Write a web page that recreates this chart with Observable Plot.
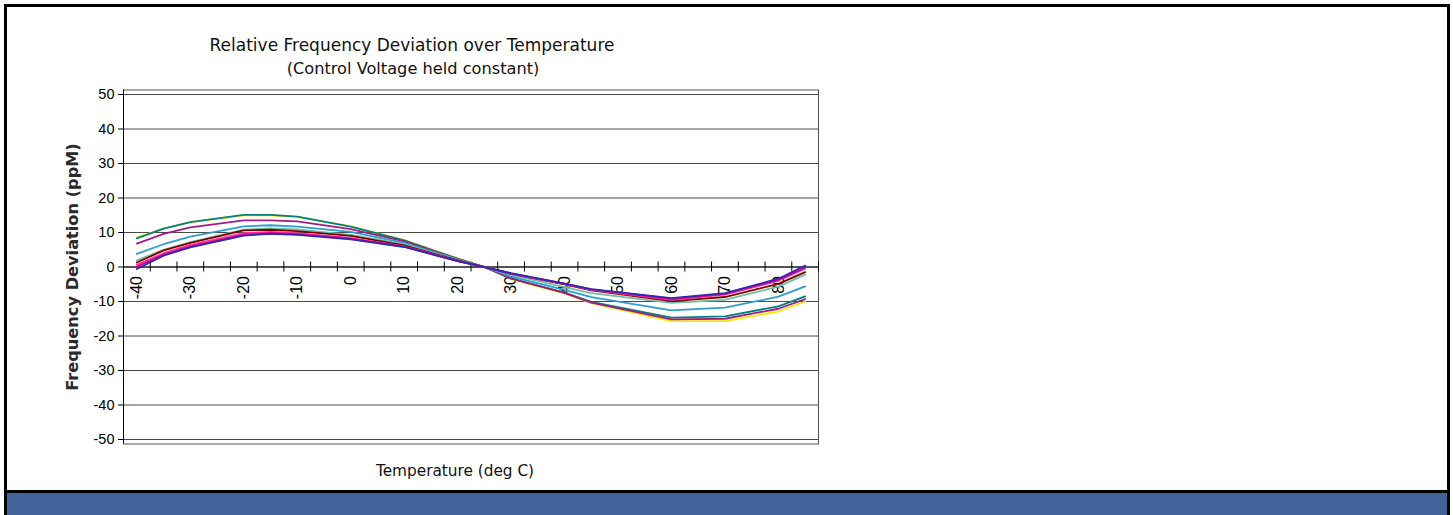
<!DOCTYPE html>
<html>
<head>
<meta charset="utf-8">
<script src="https://cdn.jsdelivr.net/npm/d3@7"></script>
<script src="https://cdn.jsdelivr.net/npm/@observablehq/plot@0.6"></script>
<style>
html, body { margin: 0; padding: 0; background: #fff; width: 1453px; height: 515px; overflow: hidden; position: relative; }
#chart { position: absolute; left: 0; top: 0; }
#border { position: absolute; left: 4px; top: 4px; width: 1446px; height: 540px; box-sizing: border-box; border: 3px solid #000; z-index: 5; pointer-events: none; }
#bar { position: absolute; left: 4px; top: 490px; width: 1446px; height: 40px; box-sizing: border-box; border-top: 3px solid #000; background: #41639A; z-index: 4; }
.t { position: absolute; white-space: nowrap; color: #111; font-family: "DejaVu Sans", sans-serif; z-index: 6; }
#title1 { left: 412px; top: 35px; transform: translateX(-50%); font-size: 17px; }
#title2 { left: 413px; top: 59px; transform: translateX(-50%); font-size: 16.2px; }
#ytitle { left: 72px; top: 267px; transform: translate(-50%, -50%) rotate(-90deg); font-size: 16.2px; font-weight: bold; color: #2a2a2a; }
#xtitle { left: 455px; top: 462px; transform: translateX(-50%); font-size: 15.3px; }
</style>
</head>
<body>
<div id="chart"></div>
<div id="border"></div>
<div id="bar"></div>
<div class="t" id="title1">Relative Frequency Deviation over Temperature</div>
<div class="t" id="title2">(Control Voltage held constant)</div>
<div class="t" id="ytitle">Frequency Deviation (ppM)</div>
<div class="t" id="xtitle">Temperature (deg C)</div>
<script>
// Categories on the x axis (deg C) and the labels shown
const xCategories = [-40,-35,-30,-25,-20,-15,-10,-5,0,5,10,15,20,25,30,35,40,45,50,55,60,65,70,75,80,85];
const xTickLabels = [-40,-30,-20,-10,0,10,20,30,40,50,60,70,80];
const yTicks = [-50,-40,-30,-20,-10,0,10,20,30,40,50];

// Measurement temperatures
const temps = [-40,-35,-30,-20,-15,-10,0,10,20,25,30,40,45,60,70,80,85];

// Series values (ppM)
const seriesYellow   = [8.6, 11.1, 13.0, 15.0, 15.0, 14.5, 11.8, 7.8, 2.5, 0, -3.5, -7.7, -10.5, -15.7, -15.7, -12.9, -10.0];
const seriesTeal     = [8.3, 11.1, 13.0, 15.1, 15.1, 14.6, 11.7, 7.7, 2.4, 0, -3.4, -7.4, -10.1, -14.7, -14.3, -11.4, -8.5];
const seriesPlum     = [6.8, 9.6, 11.5, 13.5, 13.5, 13.2, 11.0, 7.4, 2.3, 0, -3.3, -7.5, -10.3, -15.2, -15.0, -12.1, -9.3];
const seriesCyan     = [3.8, 6.6, 8.8, 11.8, 12.1, 11.7, 10.2, 7.0, 2.2, 0, -2.8, -6.6, -8.7, -12.6, -11.8, -8.6, -5.6];
const seriesSeaGreen = [1.9, 5.0, 7.2, 10.8, 11.2, 10.9, 9.3, 6.6, 2.0, 0, -2.3, -5.8, -7.6, -10.4, -9.5, -5.7, -2.2];
const seriesDarkRed  = [1.3, 4.8, 7.0, 10.6, 10.8, 10.4, 9.0, 6.3, 1.9, 0, -2.0, -5.0, -6.8, -9.9, -8.7, -4.9, -1.5];
const seriesPink     = [0.6, 4.0, 6.4, 9.8, 10.2, 9.8, 8.4, 6.0, 1.8, 0, -1.9, -4.9, -6.6, -9.5, -8.0, -4.0, -0.5];
const seriesMagenta  = [0.1, 3.6, 6.0, 9.4, 9.8, 9.5, 8.2, 5.9, 1.7, 0, -1.9, -4.8, -6.5, -9.2, -7.8, -3.7, -0.2];
const seriesBlue     = [-0.6, 3.3, 5.7, 9.1, 9.6, 9.3, 8.0, 5.8, 1.7, 0, -1.8, -4.8, -6.4, -9.0, -7.6, -3.4, 0.4];

const seriesNames  = ["Yellow","Teal","Plum","Cyan","SeaGreen","DarkRed","Pink","Magenta","Blue"];
const seriesColors = ["#F7E600","#008080","#A01E82","#2E9ECF","#6DBFA8","#800000","#FF3399","#CC0099","#3328B0"];
const seriesValues = [seriesYellow, seriesTeal, seriesPlum, seriesCyan, seriesSeaGreen, seriesDarkRed, seriesPink, seriesMagenta, seriesBlue];

const seriesRows = seriesValues.map((vals, k) => vals.map((v, i) => ({series: seriesNames[k], t: temps[i], v})));

const half = (xCategories[1] - xCategories[0]) / 2;
const bounds = xCategories.map(c => c - half).concat([xCategories[xCategories.length - 1] + half]);

const chart = Plot.plot({
  width: 1453,
  height: 490,
  marginLeft: 123,
  marginRight: 635,
  marginTop: 94,
  marginBottom: 51,
  style: {background: "transparent", fontFamily: "'Liberation Sans', Arial, sans-serif", fontSize: "14px", color: "#000"},
  x: {domain: [bounds[0], bounds[bounds.length - 1]], axis: null},
  y: {domain: [-50, 50], axis: null},
  marks: [
    Plot.gridY(yTicks, {stroke: "#4a4a4a", strokeOpacity: 1}),
    Plot.frame({stroke: "#555", insetTop: -4.5, insetBottom: -4.5}),
    Plot.ruleX([bounds[0]], {stroke: "#000", insetTop: -4.5, insetBottom: -4.5}),
    Plot.axisY(yTicks, {tickSize: 5, tickPadding: 4, fontSize: 14.5, label: null, stroke: "#000", tickFormat: d => String(d)}),
    Plot.ruleY([0], {stroke: "#000"}),
    Plot.ruleX(bounds, {y1: 0, y2: 0, insetTop: -5, insetBottom: -5, stroke: "#000"}),
    Plot.text(xTickLabels, {x: d => d, y: 0, text: d => String(d), rotate: -90, textAnchor: "end", dy: 9, fontSize: 16, fill: "#000"}),
    ...seriesRows.map((r, k) => Plot.line(r, {x: "t", y: "v", stroke: seriesColors[k], strokeWidth: 1.8}))
  ]
});
document.getElementById("chart").appendChild(chart);
</script>
</body>
</html>
